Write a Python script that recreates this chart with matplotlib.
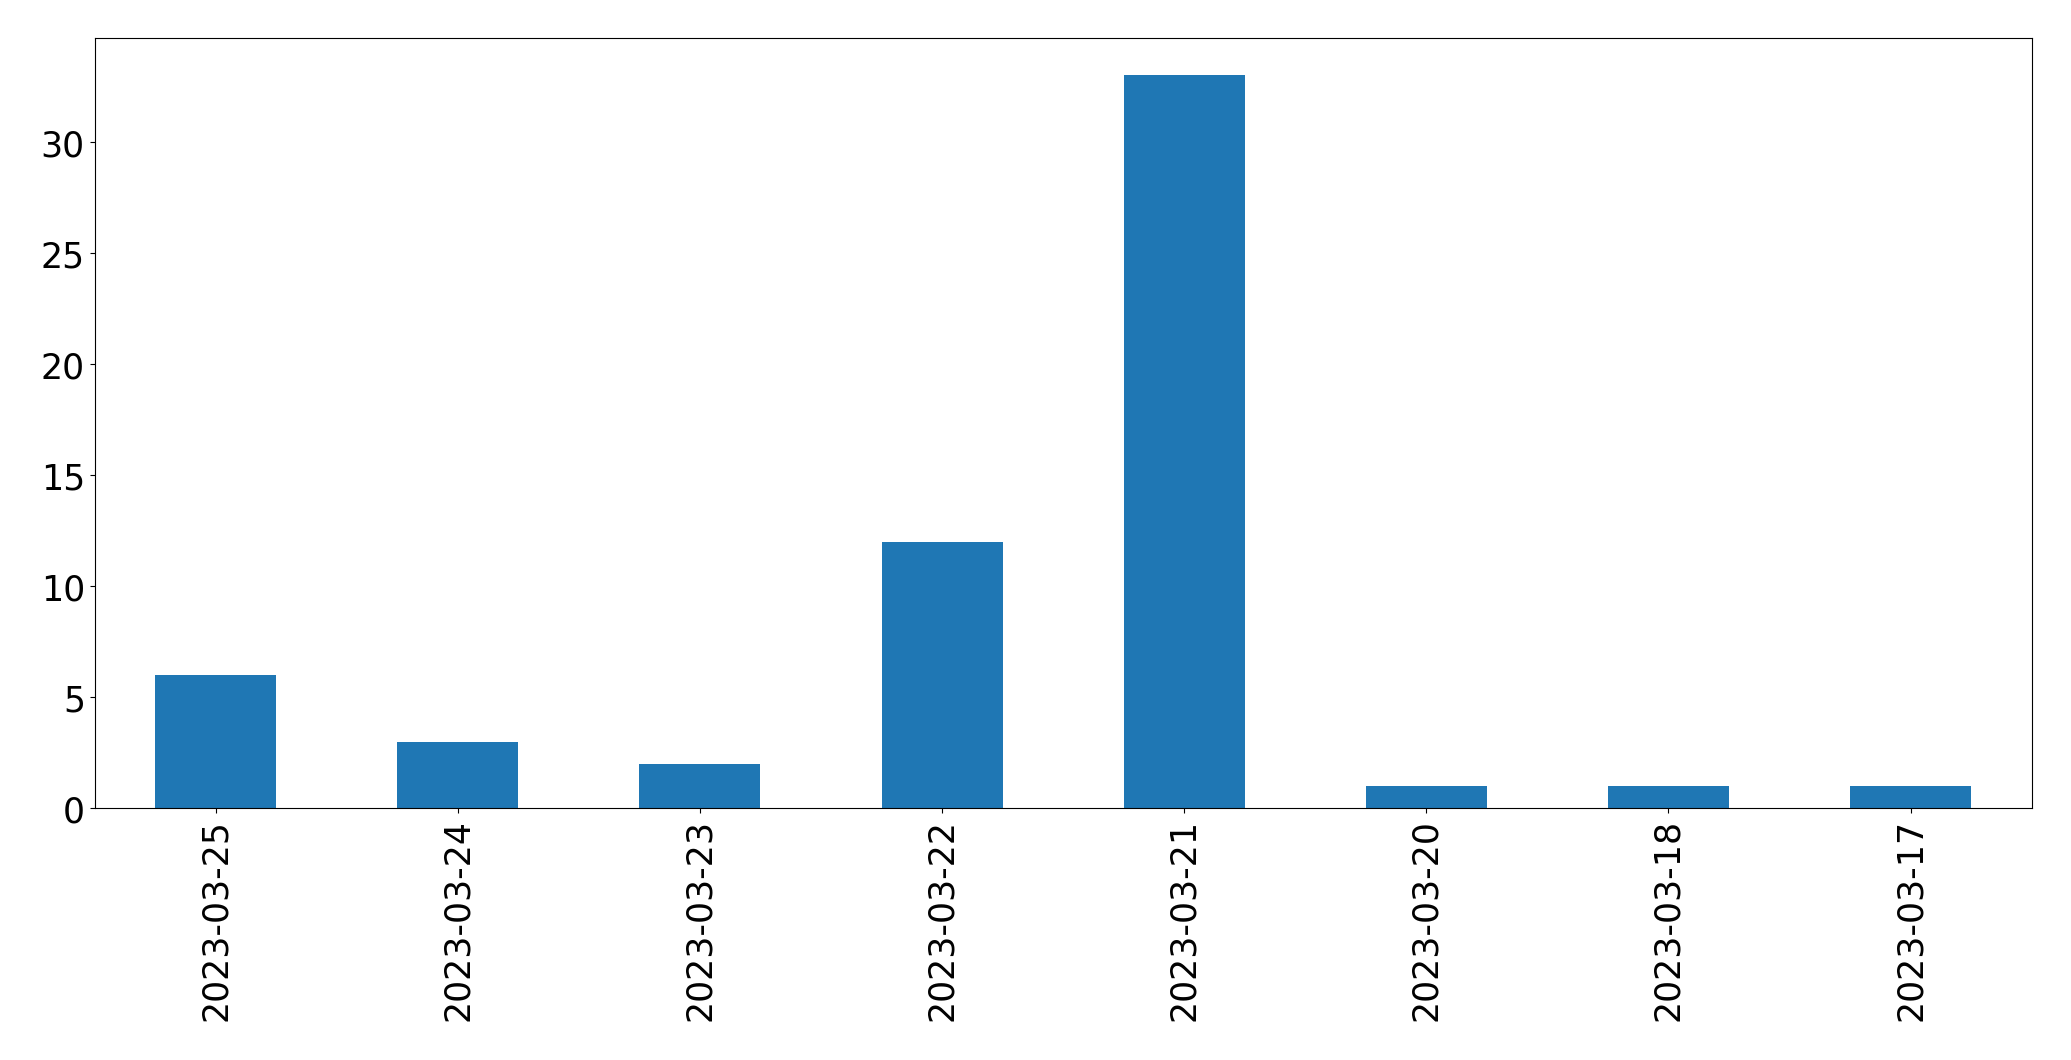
import matplotlib
matplotlib.use("Agg")
import matplotlib.pyplot as plt
import pandas as pd

# data
dates  = ["2023-03-25", "2023-03-24", "2023-03-23", "2023-03-22",
          "2023-03-21", "2023-03-20", "2023-03-18", "2023-03-17"]
counts = [6, 3, 2, 12, 33, 1, 1, 1]

s = pd.Series(counts, index=dates)

plt.rcParams["font.size"] = 25
fig, ax = plt.subplots(figsize=(20.71, 10.609), dpi=100)
s.plot(kind="bar", ax=ax, color="#1f77b4")
ax.tick_params(axis="both", labelsize=25)
plt.subplots_adjust(left=0.0457, right=0.981, bottom=0.2372, top=0.963)
plt.savefig("out.png", dpi=100)
